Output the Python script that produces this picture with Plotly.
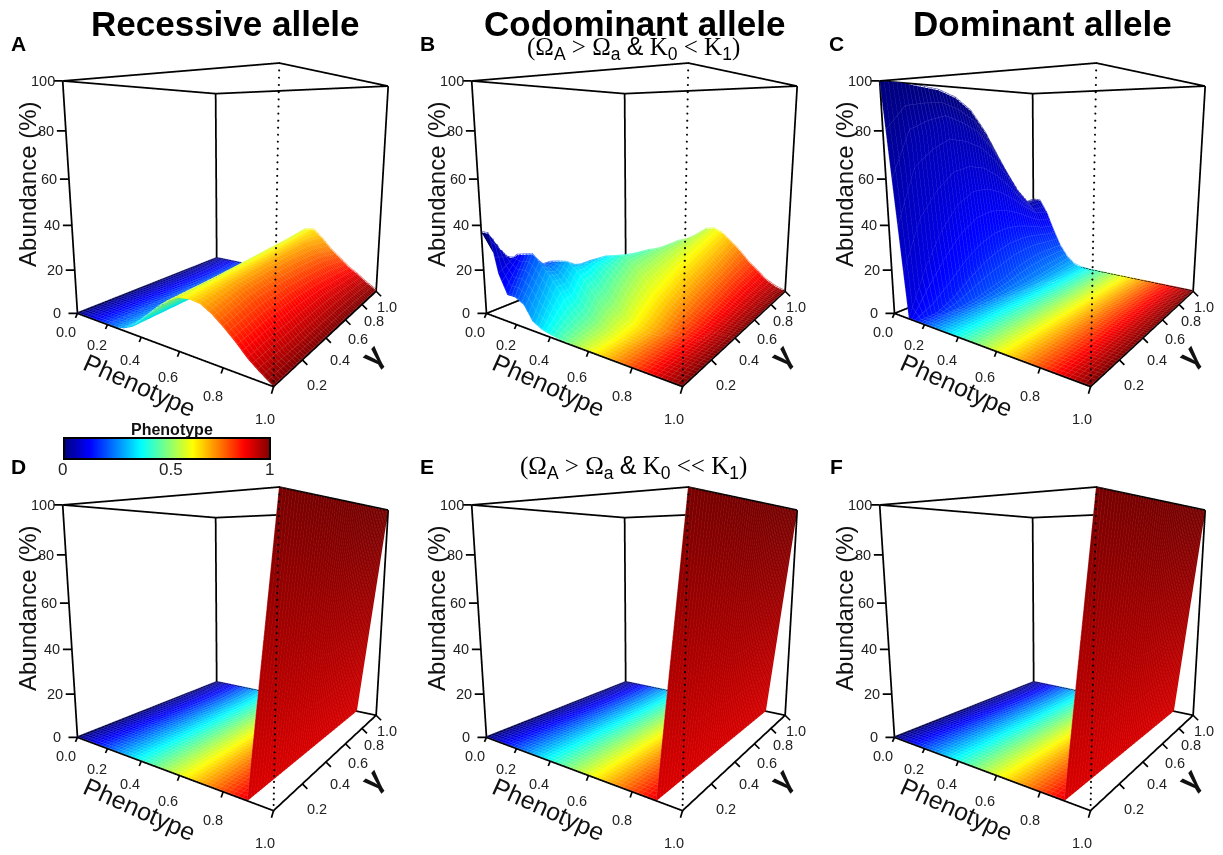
import numpy as np
import plotly.graph_objects as go

PHEN = [0, .05, .1, .15, .2, .25, .3, .35, .4, .45, .5, .55, .6, .65, .7, .75, .8, .85, .9, .95, 1]
AXIS_TICKS = [0, .2, .4, .6, .8, 1]
Z_TICKS = [0, 20, 40, 60, 80, 100]

GAMMA_A = [0, .2, .4, .6, .8, 1]
Z_A = [
    [0, 0, 0, 0, 0, .2, 1, 3, 7, 11, 15, 18.5, 21, 21.5, 21, 18.5, 15, 11, 6.5, 3, 0],
    [0, 0, 0, 0, 0, .2, 1, 3, 7, 11, 15, 19, 22, 23, 23, 21.5, 18, 13, 8, 3, .3],
    [0, 0, 0, 0, 0, .2, 1, 3, 6, 10.5, 15, 19.5, 23, 24, 24, 22, 18.5, 14, 8.5, 3.5, .3],
    [0, 0, 0, 0, 0, .1, .8, 2.5, 6, 10.5, 15.5, 20, 24, 25, 24.5, 22, 18, 13.5, 9, 4, .5],
    [0, 0, 0, 0, 0, .1, .8, 2.5, 6, 10, 15.5, 21, 25, 26, 25, 21, 17, 12, 8, 4, .5],
    [0, 0, 0, 0, 0, .1, .6, 2, 5, 10, 16, 22, 26.5, 27, 23, 18, 14, 10, 7, 3.5, .5],
]
GAMMA_B = [0, .1, .15, .2, .25, .3, .4, .6, .8, 1]
Z_B = [
    [37, 37, 20, 12, 12, 10, 4, 2, 1, .5, .2, 0, 0, 0, 0, 0, 0, 0, 0, 0, 0],
    [17, 22, 26, 27, 28, 24, 20, 15, 8, 4, 2, 1, 0, 0, 0, 0, 0, 0, 0, 0, 0],
    [10, 15, 19, 21, 22, 21.5, 19, 15, 10, 6, 3, 1.5, .5, 0, 0, 0, 0, 0, 0, 0, 0],
    [5, 10, 15, 19, 22, 23, 23.7, 21, 17, 12, 7, 4, 1.5, .5, 0, 0, 0, 0, 0, 0, 0],
    [1, 4, 9, 13, 17, 20, 21, 21, 18, 14, 9, 5, 2, 1, 0, 0, 0, 0, 0, 0, 0],
    [0, 2, 6, 10, 15, 18, 20, 22, 21, 18, 14, 10, 6, 3, 1, 0, 0, 0, 0, 0, 0],
    [0, 1, 4, 9, 14, 18, 20, 22, 23, 23.5, 21, 17, 12, 8, 5, 3, 1.5, .5, 0, 0, 0],
    [0, 0, 1, 3, 6, 9, 12, 16, 19, 22, 23, 21, 18, 15, 11, 8, 5, 3, 1.5, .5, 0],
    [0, 0, 0, 1, 2, 4, 6, 9, 13, 18, 23, 24, 23, 20, 16, 12, 9, 6, 3, 1, 0],
    [0, 0, 0, .5, 1, 2, 3, 5, 8, 13, 20, 26, 27, 25, 21, 17, 12, 8, 4, 1.5, 0],
]
GAMMA_C = [0, .1, .2, .3, .4, .5, .6, .7, .8, .9, 1]
Z_C = [
    [100, 50, 0, 0, 0, 0, 0, 0, 0, 0, 0, 0, 0, 0, 0, 0, 0, 0, 0, 0, 0],
    [100, 75, 20, 0, 0, 0, 0, 0, 0, 0, 0, 0, 0, 0, 0, 0, 0, 0, 0, 0, 0],
    [99, 80, 35, 5, 0, 0, 0, 0, 0, 0, 0, 0, 0, 0, 0, 0, 0, 0, 0, 0, 0],
    [98, 83, 45, 12, 1, 0, 0, 0, 0, 0, 0, 0, 0, 0, 0, 0, 0, 0, 0, 0, 0],
    [95, 80, 50, 18, 3, 0, 0, 0, 0, 0, 0, 0, 0, 0, 0, 0, 0, 0, 0, 0, 0],
    [89, 76, 50, 22, 5, .5, 0, 0, 0, 0, 0, 0, 0, 0, 0, 0, 0, 0, 0, 0, 0],
    [78, 68, 47, 24, 8, 1, 0, 0, 0, 0, 0, 0, 0, 0, 0, 0, 0, 0, 0, 0, 0],
    [64, 57, 42, 24, 10, 2, 0, 0, 0, 0, 0, 0, 0, 0, 0, 0, 0, 0, 0, 0, 0],
    [48, 45, 36, 23, 11, 3, .5, 0, 0, 0, 0, 0, 0, 0, 0, 0, 0, 0, 0, 0, 0],
    [36, 36, 31, 21, 11, 4, 1, 0, 0, 0, 0, 0, 0, 0, 0, 0, 0, 0, 0, 0, 0],
    [37, 37, 30, 20, 11, 5, 1.5, .3, 0, 0, 0, 0, 0, 0, 0, 0, 0, 0, 0, 0, 0],
]
GAMMA_D = [0, 1]
Z_D = [
    [0, 0, 0, 0, 0, 0, 0, 0, 0, 0, 0, 0, 0, 0, 0, 0, 0, 0, 0, 50, 100],
    [0, 0, 0, 0, 0, 0, 0, 0, 0, 0, 0, 0, 0, 0, 0, 0, 0, 0, 0, 50, 100],
]

JET = ["#00007F", "#0000FF", "#007FFF", "#00FFFF", "#7FFF7F", "#FFFF00", "#FF7F00", "#FF0000", "#7F0000"]
COLORSCALE = [[i / 8, c] for i, c in enumerate(JET)]
MESH_TINT = .22


def tint(c):
    rgb = [int(c[i:i + 2], 16) for i in (1, 3, 5)]
    r, g, b = [round(v + (255 - v) * MESH_TINT) for v in rgb]
    return f"rgb({r},{g},{b})"


MESH_SCALE = [[i / 8, tint(c)] for i, c in enumerate(JET)]

W, H = 1223, 855
SCENE_H, SCENE_W = 380, 348
PANELS = [
    ("scene", GAMMA_A, Z_A, 232, 205),
    ("scene2", GAMMA_B, Z_B, 641, 205),
    ("scene3", GAMMA_C, Z_C, 1049, 205),
    ("scene4", GAMMA_D, Z_D, 232, 629),
    ("scene5", GAMMA_D, Z_D, 641, 629),
    ("scene6", GAMMA_D, Z_D, 1049, 629),
]
SANS = "Liberation Sans, Arial, sans-serif"
SERIF = "Liberation Serif, Times New Roman, serif"
TICK_FONT = dict(family=SANS, size=14.5, color="#222222")
TITLE_FONT = dict(family=SANS, size=24, color="#111111")

X_LABEL_SHIFT = [(-11, 19), (-10, 20), (-11, 23), (-11, 25), (-10, 28), (-9, 32)]
X_TICK_LEN = [(-5, 11), (-5, 11), (-5, 12), (-5, 13), (-5, 14), (-5, 17)]
Y_LABEL_SHIFT = [None, (15, 25), (14, 22), (13, 19), (12, 17), (11, 16)]


def scene_annotations():
    out = []
    tick = dict(text=" ", showarrow=True, arrowhead=0, arrowwidth=1.7, arrowcolor="black", standoff=0)
    label = dict(showarrow=False, font=TICK_FONT)
    for i, v in enumerate(AXIS_TICKS):
        dx, dy = X_TICK_LEN[i]
        out.append(dict(x=v, y=0, z=0, ax=dx, ay=dy, **tick))
        dx, dy = X_LABEL_SHIFT[i]
        out.append(dict(x=v, y=0, z=0, text=f"{v:.1f}", xshift=dx, yshift=-dy, **label))
        if i > 0:
            out.append(dict(x=1, y=v, z=0, ax=8, ay=8, **tick))
            dx, dy = Y_LABEL_SHIFT[i]
            out.append(dict(x=1, y=v, z=0, text=f"{v:.1f}", xshift=dx, yshift=-dy, **label))
    for v in Z_TICKS:
        out.append(dict(x=0, y=0, z=v, ax=-12, ay=0, **tick))
        out.append(dict(x=0, y=0, z=v, text=str(v), xshift=-20, yshift=0, **label))
    out.append(dict(x=.5, y=0, z=0, text="Phenotype", textangle=24, xshift=-20, yshift=-41,
                    showarrow=False, font=dict(family=SANS, size=25, color="#111111")))
    out.append(dict(x=1, y=.5, z=0, text="<b>γ</b>", textangle=-45, xshift=36, yshift=-27,
                    showarrow=False, font=dict(family=SANS, size=30, color="#111111")))
    out.append(dict(x=0, y=0, z=50, text="Abundance (%)", textangle=-90, xshift=-43, yshift=18,
                    showarrow=False, font=TITLE_FONT))
    return out


AX = dict(showgrid=False, showline=False, zeroline=False, showticklabels=False, ticks="",
          showbackground=False, showspikes=False, title="", visible=True)
DOT_Z = list(range(0, 101, 2))
MESH = [i / 50 for i in range(51)]


def mesh_lines(gam, z):
    arr = np.array(z, dtype=float)
    mx, my, mz, mc = [], [], [], []
    for p in MESH:
        col = [float(np.interp(p, PHEN, row)) for row in arr]
        mx += [p] * len(gam) + [None]
        my += list(gam) + [None]
        mz += [min(v + .5, 100) for v in col] + [None]
        mc += [p] * len(gam) + [p]
    for g in MESH:
        row = [float(np.interp(g, gam, arr[:, j])) for j in range(len(PHEN))]
        mx += list(PHEN) + [None]
        my += [g] * len(PHEN) + [None]
        mz += [min(v + .5, 100) for v in row] + [None]
        mc += list(PHEN) + [1]
    return mx, my, mz, mc


fig = go.Figure()
layout = {}
for k, (name, gam, z, cx, cy) in enumerate(PANELS):
    if k == 3:
        kw = dict(showscale=True, colorbar=dict(
            orientation="h", lenmode="pixels", len=206, thicknessmode="pixels", thickness=21,
            x=167 / W, xanchor="center", y=1 - 438 / H, yanchor="top",
            xpad=0, ypad=0, outlinewidth=2, outlinecolor="black",
            tickvals=[0, .5, 1], ticktext=[" ", " ", " "], ticks="",
        ))
    else:
        kw = dict(showscale=False)
    fig.add_trace(go.Surface(
        x=PHEN, y=gam, z=z, surfacecolor=[PHEN for _ in gam],
        colorscale=COLORSCALE, cmin=0, cmax=1, scene=name, hoverinfo="skip",
        lighting=dict(ambient=.9, diffuse=.15, specular=0, roughness=1, fresnel=0),
        lightposition=dict(x=1000, y=-1000, z=3000), **kw))
    mx, my, mz, mc = mesh_lines(gam, z)
    fig.add_trace(go.Scatter3d(x=mx, y=my, z=mz, mode="lines", scene=name, hoverinfo="skip", showlegend=False,
                               line=dict(color=mc, colorscale=MESH_SCALE, cmin=0, cmax=1, width=1, showscale=False)))
    ex, ey, ez = [], [], []
    for (a, b) in [((0, 0, 100), (1, 0, 100)), ((1, 0, 100), (1, 1, 100)), ((1, 1, 100), (0, 1, 100)),
                   ((0, 1, 100), (0, 0, 100)), ((0, 0, 0), (0, 0, 100)), ((0, 1, 0), (0, 1, 100)),
                   ((1, 1, 0), (1, 1, 100)), ((0, 0, 0), (1, 0, 0)), ((1, 0, 0), (1, 1, 0)),
                   ((1, 1, 0), (0, 1, 0)), ((0, 1, 0), (0, 0, 0))]:
        ex += [a[0], b[0], None]
        ey += [a[1], b[1], None]
        ez += [a[2], b[2], None]
    fig.add_trace(go.Scatter3d(x=ex, y=ey, z=ez, mode="lines", scene=name, hoverinfo="skip", showlegend=False,
                               line=dict(color="black", width=3.5)))
    fig.add_trace(go.Scatter3d(x=[1] * len(DOT_Z), y=[0] * len(DOT_Z), z=DOT_Z, mode="markers", scene=name,
                               hoverinfo="skip", showlegend=False,
                               marker=dict(color="black", size=1.2, line=dict(width=0))))
    layout[name] = dict(
        domain=dict(x=[(cx - SCENE_W / 2) / W, (cx + SCENE_W / 2) / W],
                    y=[1 - (cy + SCENE_H / 2) / H, 1 - (cy - SCENE_H / 2) / H]),
        xaxis=dict(range=[0, 1], **AX), yaxis=dict(range=[0, 1], **AX), zaxis=dict(range=[0, 100], **AX),
        aspectmode="manual", aspectratio=dict(x=1, y=1.03, z=1),
        camera=dict(eye=dict(x=1.162, y=-1.694, z=.336), center=dict(x=-.011, y=-.017, z=-.034),
                    up=dict(x=0, y=0, z=1), projection=dict(type="perspective")),
        annotations=scene_annotations(), bgcolor="rgba(0,0,0,0)",
    )

paper = []


def note(text, x, y, font, **extra):
    paper.append(dict(text=text, x=x / W, y=1 - y / H, xref="paper", yref="paper", showarrow=False,
                      xanchor="center", yanchor="middle", font=font, **extra))


def sans(t):
    return f'<span style="font-family:{SANS.split(",")[0]}">{t}</span>'


for text, x in [("Recessive allele", 225), ("Codominant allele", 634), ("Dominant allele", 1042)]:
    note(f"<b>{text}</b>", x, 23, dict(family=SANS, size=35, color="black"))
for text, x, y in [("A", 18, 44), ("B", 427, 44), ("C", 836, 44), ("D", 18, 467), ("E", 427, 467), ("F", 836, 467)]:
    note(f"<b>{text}</b>", x, y, dict(family=SANS, size=21, color="black"))
for sub, y in [("&lt;", 48), ("&lt;&lt;", 467)]:
    note(f"(Ω<sub>{sans('A')}</sub> &gt; Ω<sub>{sans('a')}</sub> {sans('&amp;')} K<sub>{sans('0')}</sub> "
         f"{sub} K<sub>{sans('1')}</sub>)", 633, y, dict(family=SERIF, size=25, color="black"))
note("<b>Phenotype</b>", 172, 429, dict(family=SANS, size=16, color="#111111"))
for text, x in [("0", 62), ("0.5", 171), ("1", 269)]:
    note(text, x, 469, dict(family=SANS, size=17, color="#222222"))

fig.update_layout(width=W, height=H, margin=dict(l=0, r=0, t=0, b=0), autosize=False,
                  paper_bgcolor="white", showlegend=False, hovermode=False, annotations=paper, **layout)
fig.write_html("out.html", post_script="document.body.style.margin='0';document.body.style.overflow='hidden';",
               config=dict(displayModeBar=False))
